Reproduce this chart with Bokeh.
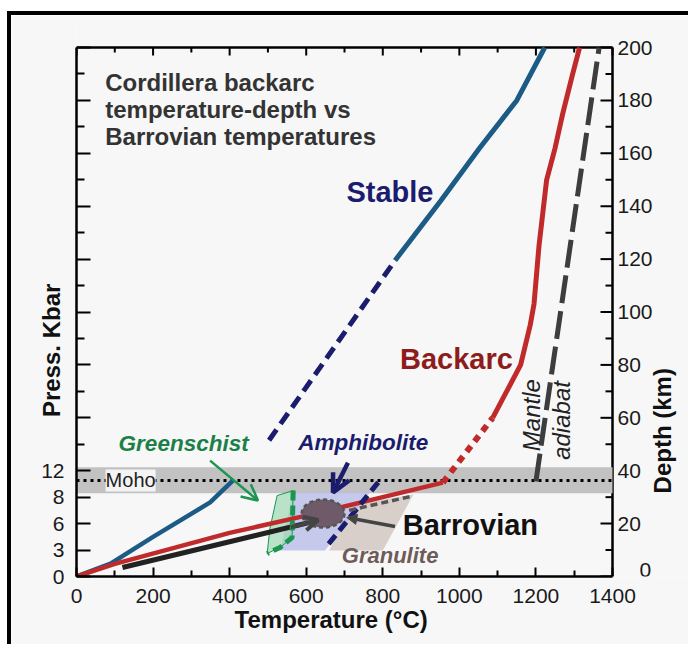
import numpy as np
from bokeh.plotting import figure
from bokeh.models import Range1d, FixedTicker, Label, Arrow, OpenHead, NormalHead
from bokeh.core.properties import value
from bokeh.embed import file_html
from bokeh.resources import INLINE

# ---------------- data (Temperature °C, Depth km) ----------------
stable_lower_T = [0, 89, 200, 349, 409]
stable_lower_D = [0, 4.9, 15, 28, 36.3]
stable_mid_T = [503, 832]
stable_mid_D = [51.5, 119.5]
stable_upper_T = [832, 951, 1053, 1150, 1223]
stable_upper_D = [119.5, 142, 162, 180, 200]

backarc_lower_T = [0, 100, 400, 600, 800, 957]
backarc_lower_D = [0, 4.8, 16.5, 23, 30, 35.5]
backarc_mid_T = [957, 1087]
backarc_mid_D = [35.5, 60]
backarc_upper_T = [1087, 1160, 1185, 1195, 1208, 1228, 1250, 1270, 1296, 1314]
backarc_upper_D = [60, 80, 95, 103, 125, 150, 162, 175, 190, 200]

adiabat_T = [1200, 1365]
adiabat_D = [36, 200]

barrovian_path_T = [120, 631]
barrovian_path_D = [3.4, 21.2]

moho_band = [31.5, 41.3]
moho_depth = 36.3

greenschist_T = [524, 505, 498, 532, 563, 566]
greenschist_D = [30.6, 18, 8.7, 11, 14.7, 32.5]
greenschist_edge_T = [566, 563, 532, 498]
greenschist_edge_D = [32.5, 14.7, 11, 8.7]

amphibolite_T = [566, 766, 649, 532]
amphibolite_D = [31.8, 31.8, 9.8, 9.8]
amphibolite_edge_T = [788, 649]
amphibolite_edge_D = [35.6, 10.6]

granulite_T = [720, 880, 800, 660]
granulite_D = [27, 31, 9.8, 9.8]
granulite_edge_T = [712, 871]
granulite_edge_D = [25, 30.2]

barrovian_center = (644, 23.8)
barrovian_size = (112, 10.6)

T_MAX = 1400
D_MAX = 200
temp_ticks = list(range(0, 1401, 200))
temp_minor = list(range(100, 1400, 200))
depth_ticks = list(range(0, 201, 20))
depth_minor = list(range(10, 200, 20))
press_ticks = [0, 10, 20, 30, 40, 60, 80, 100, 120, 140, 160, 180, 200]
press_minor = [50, 70, 90, 110, 130, 150, 170, 190]
press_labels = {0: "0", 10: "3", 20: "6", 30: "8", 40: "12"}

FONT = "Liberation Sans"
BG = "#f7f7f7"
NAVY = "#1c1c6e"
BLUE = "#1b5b86"
RED = "#c02a2a"
DRED = "#8e1c1c"
GREEN = "#1a9650"
DGRAY = "#3d3d3d"
NB = "\u00a0"

# pixel geometry of the frame: 0..1400 °C over 536 px, 0..200 km over 528.5 px
TX = T_MAX / 536.0      # °C per pixel
DY = D_MAX / 528.5      # km per pixel
X_END = T_MAX + 80 * TX   # frame continues right to hold the depth scale
Y_END = D_MAX + 30 * DY   # a little head-room above the 200 km line

p = figure(width=681, height=633, output_backend="svg", toolbar_location=None,
           x_range=Range1d(0, X_END), y_range=Range1d(0, Y_END),
           min_border_left=65, min_border_right=0, min_border_top=2, min_border_bottom=72,
           background_fill_color=BG, border_fill_color=BG)
p.styles = {"border-left": "4px solid black", "border-top": "4px solid black",
            "margin-left": "7px", "margin-top": "11px"}
p.grid.visible = False
p.outline_line_color = None

def style_axis(ax, major_in, minor_in):
    ax.axis_line_width = 2.5
    ax.axis_line_color = "black"
    ax.major_tick_in = major_in
    ax.major_tick_out = 0
    ax.minor_tick_in = minor_in
    ax.minor_tick_out = 0
    ax.major_tick_line_width = 2
    ax.minor_tick_line_width = 2
    ax.major_label_text_font = FONT
    ax.major_label_text_font_size = "21px"
    ax.major_label_text_color = "#1a1a1a"
    ax.axis_label_text_font = FONT
    ax.axis_label_text_font_size = "24px"
    ax.axis_label_text_font_style = "bold"
    ax.axis_label_text_color = "#111111"
    ax.axis_label_standoff = 0

# bottom axis
xb = p.xaxis[0]
xb.ticker = FixedTicker(ticks=temp_ticks, minor_ticks=temp_minor)
xb.bounds = (0, T_MAX)
style_axis(xb, 9, 6)
xb.major_label_standoff = 12
xb.axis_label = "Temperature (°C)" + NB * 16
# left axis
yl = p.yaxis[0]
yl.ticker = FixedTicker(ticks=press_ticks, minor_ticks=press_minor)
yl.bounds = (0, D_MAX)
yl.major_label_overrides = {t: press_labels.get(t, "") for t in press_ticks}
style_axis(yl, 14, 8)
yl.major_label_standoff = 12
yl.axis_label = "Press. Kbar" + NB * 16
yl.axis_label_standoff = -27

# top edge with ticks
p.line([0, T_MAX], [D_MAX, D_MAX], line_color="black", line_width=2.5)
p.segment(x0=temp_ticks, y0=[D_MAX] * len(temp_ticks), x1=temp_ticks,
          y1=[D_MAX - 8 * DY] * len(temp_ticks), line_color="black", line_width=2)
p.segment(x0=temp_minor, y0=[D_MAX] * len(temp_minor), x1=temp_minor,
          y1=[D_MAX - 5 * DY] * len(temp_minor), line_color="black", line_width=2)
# right depth scale
p.line([T_MAX, T_MAX], [0, D_MAX], line_color="black", line_width=2.5)
p.segment(x0=[T_MAX] * len(depth_ticks), y0=depth_ticks, x1=[T_MAX - 12 * TX] * len(depth_ticks),
          y1=depth_ticks, line_color="black", line_width=2)
p.segment(x0=[T_MAX] * len(depth_minor), y0=depth_minor, x1=[T_MAX - 7 * TX] * len(depth_minor),
          y1=depth_minor, line_color="black", line_width=2)
upper = [t for t in depth_ticks if t > 0]
p.text(x=[T_MAX + 5 * TX] * len(upper), y=upper, text=[str(t) for t in upper],
       text_font=value(FONT), text_font_size=value("21px"), text_color="#1a1a1a",
       text_align="left", text_baseline="middle")
p.text(x=[T_MAX + 5 * TX + 22 * TX], y=[0], text=["0"],
       text_font=value(FONT), text_font_size=value("21px"), text_color="#1a1a1a",
       text_align="left", text_baseline="bottom")

# Moho band and line
p.harea(y=[moho_band[0], moho_band[1]], x1=[0, 0], x2=[T_MAX, T_MAX], fill_color="#c2c2c2")
p.line([0, T_MAX], [moho_depth, moho_depth], line_color="black", line_width=3, line_dash="3 4")

# facies fields
p.patch(granulite_T, granulite_D, fill_color="#d3c8c2", fill_alpha=0.85, line_color=None)
p.patch(amphibolite_T, amphibolite_D, fill_color="#b8bde8", fill_alpha=0.8, line_color=None)
p.patch(greenschist_T, greenschist_D, fill_color="#9fd8b4", fill_alpha=0.7, line_color=GREEN, line_width=1)

# geotherms
p.line(stable_lower_T, stable_lower_D, line_color=BLUE, line_width=4.5)
p.line(stable_mid_T, stable_mid_D, line_color=NAVY, line_width=5, line_dash="13 7")
p.line(stable_upper_T, stable_upper_D, line_color=BLUE, line_width=5)

p.line(barrovian_path_T, barrovian_path_D, line_color="#222222", line_width=5)

p.line(backarc_lower_T, backarc_lower_D, line_color=RED, line_width=4.5)
p.line(backarc_mid_T, backarc_mid_D, line_color=RED, line_width=6, line_dash="7 6")
p.line(backarc_upper_T, backarc_upper_D, line_color=RED, line_width=5)

p.line(adiabat_T, adiabat_D, line_color=DGRAY, line_width=5, line_dash="28 8")

# facies boundaries
p.line(greenschist_edge_T, greenschist_edge_D, line_color=GREEN, line_width=5, line_dash="10 5")
p.line(amphibolite_edge_T, amphibolite_edge_D, line_color=NAVY, line_width=5, line_dash="11 6")
p.line(granulite_edge_T, granulite_edge_D, line_color="#555555", line_width=3.5, line_dash="7 4")

# Barrovian ellipse
p.ellipse(x=[barrovian_center[0]], y=[barrovian_center[1]],
          width=barrovian_size[0], height=barrovian_size[1],
          fill_color="#6f5a6a", line_color="#555555", line_width=2.5, line_dash="4 3")

# arrows
p.add_layout(Arrow(x_start=560, y_start=18.6, x_end=631, y_end=21.4, line_color="#444444", line_width=4,
                   end=OpenHead(size=14, line_width=4, line_color="#444444")))
p.add_layout(Arrow(x_start=832, y_start=18.9, x_end=706, y_end=22.3, line_color="#444444", line_width=3.5,
                   end=NormalHead(size=10, fill_color="#444444", line_color="#444444")))
p.add_layout(Arrow(x_start=709, y_start=43, x_end=670, y_end=31.8, line_color=NAVY, line_width=4.5,
                   end=OpenHead(size=18, line_width=4.5, line_color=NAVY)))
p.add_layout(Arrow(x_start=349, y_start=43.8, x_end=474, y_end=28.7, line_color=GREEN, line_width=2.5,
                   end=OpenHead(size=16, line_width=2.5, line_color=GREEN)))

# labels
def lab(x, y, text, size, color, style="bold", align="left", angle=0, **kw):
    p.add_layout(Label(x=x, y=y, text=text, text_font=FONT, text_font_size=size,
                       text_font_style=style, text_color=color, text_align=align,
                       text_baseline="middle", angle=angle, **kw))

for i, line in enumerate(["Cordillera backarc", "temperature-depth vs", "Barrovian temperatures"]):
    lab(75, 186.6 - i * 10.2, line, "24px", "#333333")
lab(705, 145.5, "Stable", "29px", NAVY)
lab(845, 82.4, "Backarc", "29px", DRED)
lab(852, 19.3, "Barrovian", "29px", "#111111")
lab(110, 50.3, "Greenschist", "22.5px", "#1a8048", style="bold italic")
lab(579, 50.6, "Amphibolite", "22.5px", NAVY, style="bold italic")
lab(693, 7.9, "Granulite", "22px", "#6e5c58", style="bold italic")
lab(1189, 61, "Mantle", "24px", "#222222", style="italic", align="center", angle=np.pi / 2)
lab(1267, 59, "adiabat", "24px", "#222222", style="italic", align="center", angle=np.pi / 2)
lab(76, moho_depth, "Moho", "20px", "#222222", style="normal",
    background_fill_color="#f4f4f4")
lab(T_MAX + 50 * TX, 55.1, "Depth (km)", "24px", "#111111", align="center", angle=np.pi / 2)

open("out.html", "w").write(file_html(p, INLINE))
